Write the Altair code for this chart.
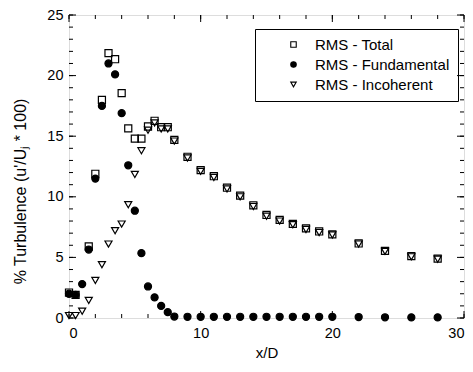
import altair as alt
import pandas as pd

# ---- data ----
x_total = [0, 0.5, 1.5, 2, 2.5, 3, 3.5, 4, 4.5, 5, 5.5, 6, 6.5, 7, 7.5, 8, 9, 10,
           11, 12, 13, 14, 15, 16, 17, 18, 19, 20, 22, 24, 26, 28]
y_total = [2.1, 1.9, 5.9, 11.9, 18.0, 21.85, 21.35, 18.55, 15.65, 14.8, 14.8, 15.8,
           16.27, 15.74, 15.74, 14.7, 13.3, 12.2, 11.7, 10.75, 10.1, 9.3, 8.5, 8.1,
           7.77, 7.4, 7.14, 6.9, 6.15, 5.54, 5.1, 4.9]

x_fund = [0, 0.5, 1, 1.5, 2, 2.5, 3, 3.5, 4, 4.5, 5, 5.5, 6, 6.5, 7, 7.5, 8, 9, 10,
          11, 12, 13, 14, 15, 16, 17, 18, 19, 20, 22, 24, 26, 28]
y_fund = [2.0, 1.9, 2.8, 5.65, 11.5, 17.5, 21.0, 20.1, 16.9, 12.6, 8.85, 5.35, 2.6,
          1.7, 1.0, 0.48, 0.12, 0.1, 0.1, 0.1, 0.1, 0.1, 0.1, 0.1, 0.1, 0.1, 0.1, 0.1,
          0.1, 0.08, 0.06, 0.05, 0.05]

x_inc = [0, 0.5, 1, 1.5, 2, 2.5, 3, 3.5, 4, 4.5, 5, 5.5, 6, 6.5, 7, 7.5, 8, 9, 10,
         11, 12, 13, 14, 15, 16, 17, 18, 19, 20, 22, 24, 26, 28]
y_inc = [0.2, 0.2, 0.56, 1.45, 3.1, 4.4, 6.1, 7.2, 7.75, 9.35, 11.85, 13.8, 15.5,
         16.1, 15.6, 15.6, 14.6, 13.2, 12.1, 11.6, 10.65, 10.0, 9.2, 8.4, 8.0, 7.7,
         7.3, 7.05, 6.85, 6.1, 5.5, 5.05, 4.85]

series_names = ["RMS - Total", "RMS - Fundamental", "RMS - Incoherent"]

x_minor_ticks = list(range(0, 31, 2))
x_major_ticks = [0, 10, 20, 30]
y_minor_ticks = list(range(0, 26, 1))
y_major_ticks = [0, 5, 10, 15, 20, 25]

W, H = 395, 303
FONT = "Liberation Sans"

rows = []
for name, xs, ys in zip(series_names, [x_total, x_fund, x_inc], [y_total, y_fund, y_inc]):
    for xv, yv in zip(xs, ys):
        rows.append({"xd": xv, "turb": yv, "series": name})
df = pd.DataFrame(rows)

xscale = alt.Scale(domain=[0, 30], nice=False, zero=False)
yscale = alt.Scale(domain=[0, 25], nice=False, zero=False)

leg = alt.Legend(title=None, orient="none", legendX=186, legendY=14,
                 strokeColor="black", padding=8, rowPadding=4,
                 labelFontSize=15, labelFont=FONT, labelColor="black",
                 symbolSize=30, symbolStrokeWidth=1.1,
                 symbolOffset=23, labelOffset=14)

points = alt.Chart(df).mark_point(size=50, strokeWidth=1.2, opacity=1).encode(
    x=alt.X("xd:Q", scale=xscale, title="x/D",
            axis=alt.Axis(values=x_major_ticks, ticks=False, domain=False, grid=False,
                          labelPadding=8, titlePadding=6, labelFontSize=14.5,
                          titleFontSize=15, titleFontWeight="normal", format="d")),
    y=alt.Y("turb:Q", scale=yscale, title="% Turbulence (u'/Uⱼ * 100)",
            axis=alt.Axis(values=y_major_ticks, ticks=False, domain=False, grid=False,
                          labelPadding=6, titlePadding=18, labelFontSize=14.5,
                          titleFontSize=16, titleFontWeight="normal", format="d",
                          titleY=176)),
    shape=alt.Shape("series:N",
                    scale=alt.Scale(domain=series_names,
                                    range=["square", "circle", "triangle-down"]),
                    legend=leg),
    fill=alt.Fill("series:N",
                  scale=alt.Scale(domain=series_names,
                                  range=["transparent", "black", "transparent"]),
                  legend=leg),
    stroke=alt.Stroke("series:N",
                      scale=alt.Scale(domain=series_names,
                                      range=["black", "black", "black"]),
                      legend=leg),
    order=alt.Order("series:N", sort="descending"),
)

xmin_df = pd.DataFrame({"t": x_minor_ticks})
xmaj_df = pd.DataFrame({"t": x_major_ticks})
ymin_df = pd.DataFrame({"t": y_minor_ticks})
ymaj_df = pd.DataFrame({"t": y_major_ticks})

def xticks(d, ln):
    b = alt.Chart(d).mark_rule(color="black", strokeWidth=1)
    bottom = b.encode(x=alt.X("t:Q", scale=xscale), y=alt.value(H), y2=alt.value(H - ln))
    top = b.encode(x=alt.X("t:Q", scale=xscale), y=alt.value(0), y2=alt.value(ln))
    return bottom + top

def yticks(d, ln):
    b = alt.Chart(d).mark_rule(color="black", strokeWidth=1)
    left = b.encode(y=alt.Y("t:Q", scale=yscale), x=alt.value(0), x2=alt.value(ln))
    right = b.encode(y=alt.Y("t:Q", scale=yscale), x=alt.value(W), x2=alt.value(W - ln))
    return left + right

chart = alt.layer(
    xticks(xmin_df, 4), xticks(xmaj_df, 7), yticks(ymin_df, 4), yticks(ymaj_df, 7), points
).properties(
    width=W, height=H,
    padding={"left": 69, "top": 15, "right": 9, "bottom": 54},
    autosize=alt.AutoSizeParams(type="none"),
).configure_view(
    stroke="black", strokeWidth=1.2
).configure(
    font=FONT, background="white"
).configure_axis(
    labelColor="black", titleColor="black", labelFont=FONT, titleFont=FONT
)

chart.save("out.html", embed_options={"renderer": "svg", "actions": False})
